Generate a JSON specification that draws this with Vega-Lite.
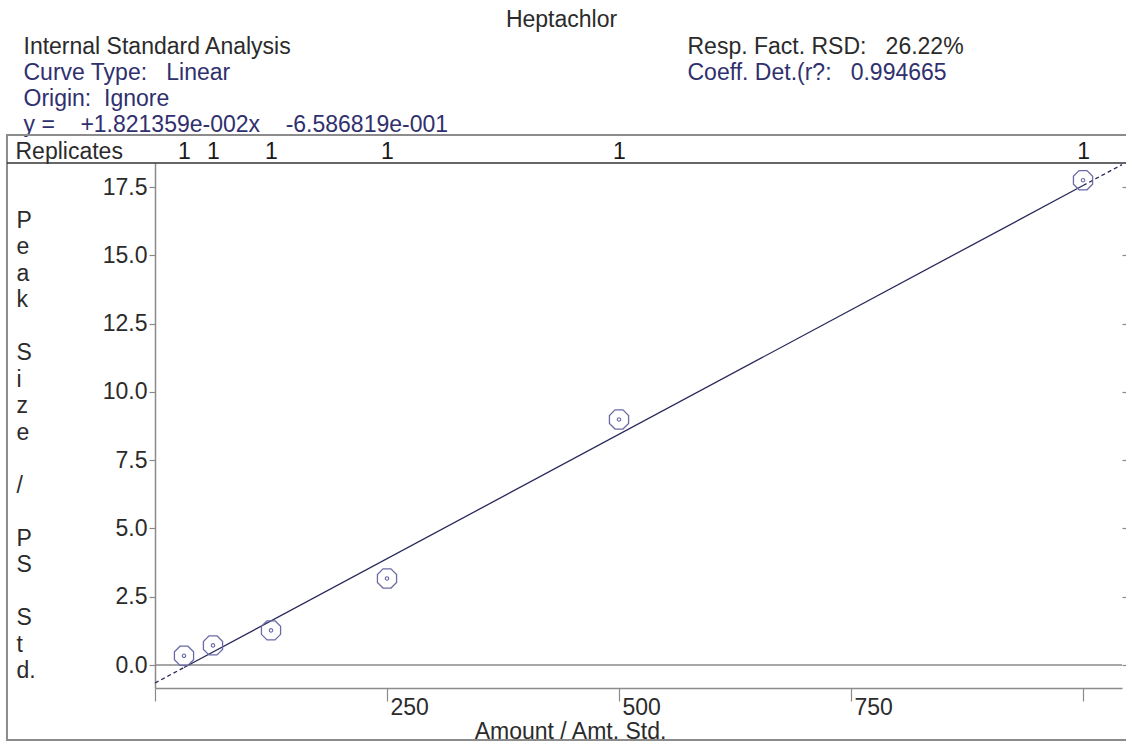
{
  "$schema": "https://vega.github.io/schema/vega-lite/v6.json",
  "width": 967,
  "height": 525,
  "autosize": {"type": "none"},
  "padding": {"left": 155, "top": 163, "right": 4, "bottom": 54},
  "background": "#ffffff",
  "datasets": {
    "points": [
      {"amount": 31.25, "response": 0.34},
      {"amount": 62.5, "response": 0.72},
      {"amount": 125, "response": 1.27},
      {"amount": 250, "response": 3.17},
      {"amount": 500, "response": 8.99},
      {"amount": 1000, "response": 17.75}
    ],
    "fit_solid": [
      {"amount": 31.25, "fit": -0.0895},
      {"amount": 1000, "fit": 17.5549}
    ],
    "fit_dashed": [
      {"amount": 0, "fit": -0.6587, "part": "low"},
      {"amount": 31.25, "fit": -0.0895, "part": "low"},
      {"amount": 1000, "fit": 17.5549, "part": "high"},
      {"amount": 1042, "fit": 18.3198, "part": "high"}
    ],
    "frame": [{"element": "frame"}]
  },
  "config": {
    "view": {"stroke": null},
    "font": "Liberation Sans",
    "axis": {
      "labelFont": "Liberation Sans",
      "titleFont": "Liberation Sans",
      "labelFontSize": 23,
      "titleFontSize": 23,
      "titleFontWeight": "normal",
      "grid": false,
      "labelColor": "#2b2b2b",
      "titleColor": "#2b2b2b",
      "domainColor": "#8a8a8a",
      "tickColor": "#8a8a8a",
      "domainWidth": 1.5,
      "tickWidth": 1.2
    }
  },
  "resolve": {
    "scale": {"x": "shared", "y": "shared"},
    "axis": {"x": "independent", "y": "independent"}
  },
  "layer": [
    {
      "data": {"name": "frame"},
      "mark": {"type": "rect", "fillOpacity": 0, "stroke": "#8c8c8c", "strokeWidth": 2},
      "encoding": {
        "x": {"datum": -159.5, "type": "quantitative", "scale": {"domain": [0, 1042], "nice": false, "zero": false}, "axis": null},
        "x2": {"datum": 1070},
        "y": {"datum": 19.405, "type": "quantitative", "scale": {"domain": [-0.84, 18.38], "nice": false, "zero": false}, "axis": null},
        "y2": {"datum": -2.744}
      }
    },
    {
      "data": {"name": "frame"},
      "mark": {"type": "rule", "color": "#333333", "strokeWidth": 1.5},
      "encoding": {
        "x": {"datum": -159.5, "type": "quantitative", "scale": {"domain": [0, 1042], "nice": false, "zero": false}, "axis": null},
        "x2": {"datum": 1070},
        "y": {"datum": 18.38, "type": "quantitative", "scale": {"domain": [-0.84, 18.38], "nice": false, "zero": false}, "axis": null}
      }
    },
    {
      "data": {"name": "frame"},
      "mark": {"type": "rule", "color": "#8a8a8a", "strokeWidth": 1.5},
      "encoding": {
        "y": {"datum": 0, "type": "quantitative", "scale": {"domain": [-0.84, 18.38], "nice": false, "zero": false}, "axis": null}
      }
    },
    {
      "data": {"name": "fit_dashed"},
      "mark": {"type": "line", "color": "#28285a", "strokeWidth": 1.3, "strokeDash": [4, 3]},
      "encoding": {
        "x": {
          "field": "amount", "type": "quantitative",
          "scale": {"domain": [0, 1042], "nice": false, "zero": false},
          "axis": {"orient": "top", "domain": false, "ticks": false, "labels": false,
                   "title": "Resp. Fact. RSD:\u00a0\u00a0\u00a026.22%", "titleX": 532, "titleY": -110,
                   "titleAlign": "left", "titleBaseline": "alphabetic", "titleAngle": 0}
        },
        "y": {
          "field": "fit", "type": "quantitative",
          "scale": {"domain": [-0.84, 18.38], "nice": false, "zero": false},
          "axis": {"orient": "left", "domain": false, "ticks": false, "labels": false,
                   "title": "Internal Standard Analysis", "titleX": -132, "titleY": -110,
                   "titleAlign": "left", "titleBaseline": "alphabetic", "titleAngle": 0}
        },
        "detail": {"field": "part", "type": "nominal"}
      }
    },
    {
      "data": {"name": "fit_solid"},
      "mark": {"type": "line", "color": "#28285a", "strokeWidth": 1.3},
      "encoding": {
        "x": {
          "field": "amount", "type": "quantitative",
          "scale": {"domain": [0, 1042], "nice": false, "zero": false},
          "axis": {"orient": "top", "domain": false, "ticks": false, "labels": false,
                   "title": "Coeff. Det.(r?:\u00a0\u00a0\u00a00.994665", "titleColor": "#30306e", "titleX": 532, "titleY": -84,
                   "titleAlign": "left", "titleBaseline": "alphabetic", "titleAngle": 0}
        },
        "y": {
          "field": "fit", "type": "quantitative",
          "scale": {"domain": [-0.84, 18.38], "nice": false, "zero": false},
          "axis": {"orient": "left", "domain": false, "ticks": false, "labels": false,
                   "title": ["Curve Type:\u00a0\u00a0\u00a0Linear", "Origin:\u00a0\u00a0Ignore", "y =\u00a0\u00a0\u00a0\u00a0+1.821359e-002x\u00a0\u00a0\u00a0\u00a0-6.586819e-001"],
                   "titleColor": "#30306e", "titleLineHeight": 26,
                   "titleX": -132, "titleY": -84,
                   "titleAlign": "left", "titleBaseline": "alphabetic", "titleAngle": 0}
        }
      }
    },
    {
      "data": {"name": "points"},
      "mark": {"type": "point", "shape": "M0.383,-0.924L0.924,-0.383L0.924,0.383L0.383,0.924L-0.383,0.924L-0.924,0.383L-0.924,-0.383L-0.383,-0.924Z", "size": 430, "filled": false, "stroke": "#6a6aa6", "strokeWidth": 1.3, "opacity": 1},
      "encoding": {
        "x": {
          "field": "amount", "type": "quantitative",
          "scale": {"domain": [0, 1042], "nice": false, "zero": false},
          "axis": {"orient": "bottom", "values": [0, 250, 500, 750, 1000], "tickSize": 13,
                   "labelExpr": "datum.value == 0 || datum.value == 1000 ? '' : datum.label",
                   "format": "d", "labelAlign": "left", "labelOffset": 3, "labelBaseline": "alphabetic",
                   "labelPadding": 13, "labelFlush": false, "labelOverlap": false,
                   "title": "Amount / Amt. Std.", "titleX": 415, "titleY": 50,
                   "titleAlign": "center", "titleBaseline": "alphabetic", "titleAngle": 0}
        },
        "y": {
          "field": "response", "type": "quantitative",
          "scale": {"domain": [-0.84, 18.38], "nice": false, "zero": false},
          "axis": {"orient": "left", "values": [0, 2.5, 5, 7.5, 10, 12.5, 15, 17.5], "format": ".1f",
                   "tickSize": 6, "labelPadding": 2, "labelFlush": false, "labelOverlap": false,
                   "title": ["P", "e", "a", "k", "\u2800", "S", "i", "z", "e", "\u2800", "/", "\u2800", "P", "S", "\u2800", "S", "t", "d."],
                   "titleLineHeight": 26.5, "titleX": -139, "titleY": 64,
                   "titleAlign": "left", "titleBaseline": "alphabetic", "titleAngle": 0}
        }
      }
    },
    {
      "data": {"name": "points"},
      "mark": {"type": "point", "shape": "circle", "size": 12, "filled": false, "stroke": "#6a6aa6", "strokeWidth": 1.1, "opacity": 1},
      "encoding": {
        "x": {
          "field": "amount", "type": "quantitative",
          "scale": {"domain": [0, 1042], "nice": false, "zero": false},
          "axis": {"orient": "top", "values": [31.25, 62.5, 125, 250, 500, 1000], "labelExpr": "'1'",
                   "ticks": false, "tickSize": 0, "domain": false, "labelPadding": 0,
                   "labelColor": "#1a1a1a", "labelFlush": false, "labelOverlap": false,
                   "title": "Replicates", "titleX": -140, "titleY": -5,
                   "titleAlign": "left", "titleBaseline": "alphabetic", "titleAngle": 0}
        },
        "y": {
          "field": "response", "type": "quantitative",
          "scale": {"domain": [-0.84, 18.38], "nice": false, "zero": false},
          "axis": {"orient": "right", "values": [0, 2.5, 5, 7.5, 10, 12.5, 15, 17.5],
                   "tickSize": 4, "labels": false, "domain": false,
                   "title": "Heptachlor", "titleX": -561, "titleY": -137,
                   "titleAlign": "center", "titleBaseline": "alphabetic", "titleAngle": 0}
        }
      }
    }
  ]
}
